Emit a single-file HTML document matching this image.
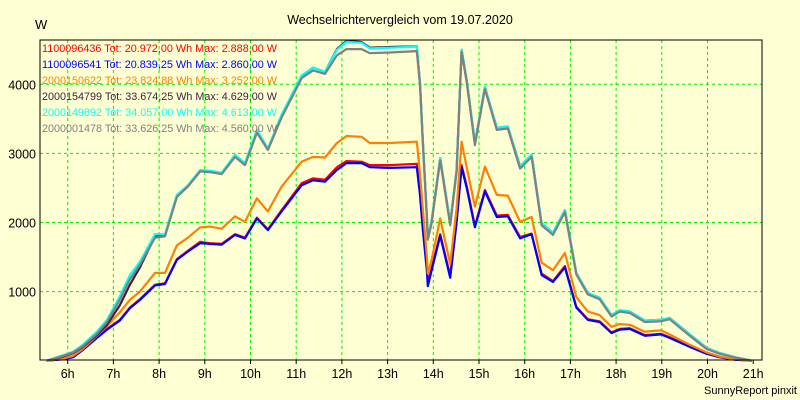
<!DOCTYPE html>
<html><head><meta charset="utf-8"><style>
html,body{margin:0;padding:0;background:#ffffd4;}
svg{display:block;font-family:"Liberation Sans",sans-serif;}
</style></head><body>
<svg id="chart" width="800" height="400" viewBox="0 0 800 400">
<rect x="0" y="0" width="800" height="400" fill="#ffffd4"/>
<text x="400" y="24" font-size="12.5" text-anchor="middle" fill="#000">Wechselrichtervergleich vom 19.07.2020</text>
<text x="35" y="29" font-size="13" fill="#000">W</text>
<text x="797" y="394" font-size="11" text-anchor="end" fill="#000">SunnyReport pinxit</text>
<g id="grid"></g>
<g id="series"></g>
<rect x="40" y="40" width="722" height="320" fill="none" stroke="#000" stroke-width="1"/>
<g id="axes"></g>
<g id="legend"></g>
</svg>
<script>
const times=[5.54,5.90,6.12,6.33,6.64,6.86,7.14,7.36,7.58,7.91,8.13,8.39,8.63,8.90,9.11,9.37,9.66,9.88,10.14,10.38,10.68,11.12,11.37,11.63,11.89,12.10,12.43,12.61,13.05,13.64,13.71,13.77,13.86,13.88,13.96,14.15,14.37,14.51,14.62,14.73,14.91,15.13,15.39,15.63,15.90,16.15,16.37,16.62,16.88,17.13,17.38,17.64,17.90,18.08,18.30,18.63,18.98,19.17,19.61,19.98,20.27,20.60,20.97];
const redVals=[0,25,60,165,340,460,590,770,890,1100,1120,1470,1590,1720,1700,1690,1830,1780,2070,1900,2180,2570,2640,2620,2800,2888,2880,2830,2830,2850,2450,1950,1350,1120,1330,1830,1230,2030,2830,2530,1950,2470,2100,2110,1790,1840,1260,1150,1370,780,600,570,410,460,470,370,390,340,205,105,50,15,0];
const blueVals=[0,20,50,155,330,450,580,760,880,1090,1110,1460,1580,1700,1690,1680,1820,1770,2060,1890,2160,2540,2610,2590,2760,2860,2860,2800,2790,2800,2400,1900,1300,1080,1300,1810,1200,2000,2800,2500,1930,2450,2080,2090,1770,1830,1240,1140,1350,770,590,560,400,450,460,360,380,330,200,100,50,15,0];
const orangeVals=[0,30,70,170,360,500,700,880,1000,1270,1270,1670,1780,1930,1940,1910,2090,2010,2350,2160,2520,2880,2950,2940,3150,3252,3240,3150,3150,3170,2700,2200,1500,1260,1450,2060,1400,2200,3170,2800,2230,2810,2400,2390,2010,2080,1420,1310,1560,920,710,660,490,530,520,420,440,380,230,120,60,20,0];
const blackVals=[0,60,110,200,370,520,800,1100,1350,1800,1820,2390,2530,2750,2740,2710,2970,2850,3330,3060,3550,4120,4240,4180,4510,4629,4610,4530,4540,4550,4020,3190,2080,1780,2010,2930,1990,2760,4500,4060,3150,3960,3370,3390,2810,2980,1990,1850,2180,1270,980,910,660,730,710,580,590,620,380,185,110,50,0];
const cyanVals=[0,80,130,230,420,590,930,1240,1430,1830,1830,2400,2540,2760,2750,2720,2980,2860,3340,3070,3560,4130,4240,4180,4500,4613,4600,4520,4530,4545,4020,3190,2080,1775,2010,2930,1990,2760,4500,4060,3150,3960,3370,3390,2810,2980,1990,1850,2180,1270,980,910,660,730,710,580,590,620,380,185,110,50,0];
const grayVals=[0,70,120,210,390,560,880,1180,1390,1780,1800,2370,2520,2740,2730,2700,2950,2830,3300,3050,3520,4090,4200,4150,4420,4510,4510,4450,4460,4480,3990,3160,2050,1750,1980,2900,1960,2730,4470,4030,3120,3930,3340,3360,2780,2950,1960,1820,2150,1250,960,890,640,710,690,560,570,600,360,170,100,45,0];
const hourTicks=[6,7,8,9,10,11,12,13,14,15,16,17,18,19,20,21];
const valueTicks=[1000,2000,3000,4000];
const legendLabels=["1100096436 Tot: 20.972,00 Wh Max: 2.888,00 W","1100096541 Tot: 20.839,25 Wh Max: 2.860,00 W","2000150622 Tot: 23.824,88 Wh Max: 3.252,00 W","2000154799 Tot: 33.674,25 Wh Max: 4.629,00 W","2000149892 Tot: 34.057,00 Wh Max: 4.613,00 W","2000001478 Tot: 33.626,25 Wh Max: 4.560,00 W"];
const seriesColors=["#ff0000","#0000ff","#ff8000","#402040","#00ffff","#808080"];
const seriesNames=["red","blue","orange","black","cyan","gray"];

const NS="http://www.w3.org/2000/svg";
function xS(h){return 67.7+(h-6)*45.7;}
function yS(v){return 360.7-v*0.0691;}
function mk(t,a,p){const e=document.createElementNS(NS,t);for(const k in a)e.setAttribute(k,a[k]);p.appendChild(e);return e;}
const grid=document.getElementById('grid'),axes=document.getElementById('axes'),ser=document.getElementById('series'),leg=document.getElementById('legend');
hourTicks.forEach(h=>{
  const x=xS(h);
  if(h<21){const l=mk('line',{x1:x,y1:40,x2:x,y2:360,stroke:'#00f000','stroke-dasharray':'3,3','stroke-width':1},grid);
  
  }
  const tk=mk('line',{x1:x,y1:360,x2:x,y2:364,stroke:'#000'},axes);
  
  
  const t=mk('text',{x:x,y:378,'font-size':12.5,'text-anchor':'middle',fill:'#000'},axes);
  t.textContent=h+'h';
  
  
});
valueTicks.forEach(v=>{
  const y=yS(v);
  const l=mk('line',{x1:40,y1:y,x2:762,y2:y,stroke:'#00f000','stroke-dasharray':'3,3','stroke-width':1},grid);
  
  
  const t=mk('text',{x:36,y:y+5,'font-size':12.5,'text-anchor':'end',fill:'#000'},axes);
  t.textContent=v;
  
  
});
[redVals,blueVals,orangeVals,blackVals,cyanVals,grayVals].forEach((vals,i)=>{
  const d=vals.map((v,j)=>(j?'L':'M')+xS(times[j]).toFixed(1)+','+yS(v).toFixed(1)).join(' ');
  const p=mk('path',{d:d,fill:'none',stroke:seriesColors[i],'stroke-width':2.2,'stroke-linejoin':'round'},ser);
  
  
});
legendLabels.forEach((s,i)=>{
  const t=mk('text',{x:42,y:52+i*16,'font-size':11,fill:seriesColors[i],textLength:235,lengthAdjust:'spacingAndGlyphs'},leg);
  t.textContent=s;
  
  
});
</script>
</body></html>
